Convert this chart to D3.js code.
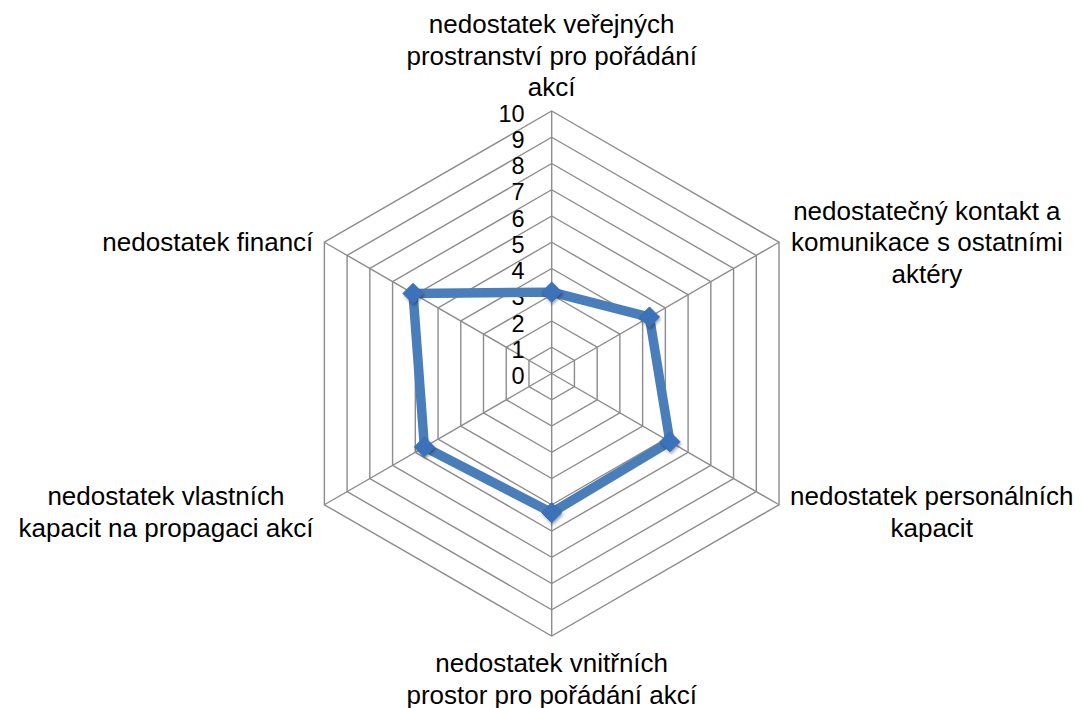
<!DOCTYPE html>
<html>
<head>
<meta charset="utf-8">
<script src="https://cdn.jsdelivr.net/npm/d3@7"></script>
<style>
	body { margin: 0; background: #fff; }
	svg { display: block; font-family: 'Liberation Sans', Arial, sans-serif; }
	.grid { fill: none; stroke: #8c8c8c; stroke-width: 1.4px; }
	.axisLine { stroke: #8c8c8c; stroke-width: 1.4px; }
	.tickText { font-size: 23.5px; fill: #000; }
	.catText { font-size: 26px; fill: #000; }
</style>
</head>
<body>
<div id="chart"></div>
<script>
// categories, clockwise from the top (each entry = lines of the label)
var categories = [
	['nedostatek veřejných', 'prostranství pro pořádání', 'akcí'],
	['nedostatečný kontakt a', 'komunikace s ostatními', 'aktéry'],
	['nedostatek personálních', 'kapacit'],
	['nedostatek vnitřních', 'prostor pro pořádání akcí'],
	['nedostatek vlastních', 'kapacit na propagaci akcí'],
	['nedostatek financí']
];
var values = [3.1, 4.3, 5.2, 5.3, 5.6, 6.1];
var ticks = [0, 1, 2, 3, 4, 5, 6, 7, 8, 9, 10];

var width = 1084, height = 708;
var cx = 551.7, cy = 373.5, radius = 262.5;
var lineHeight = 31.5;

var svg = d3.select('#chart')
	.append('svg')
	.attr('width', width)
	.attr('height', height);

var defs = svg.append('defs');
defs.append('filter')
	.attr('id', 'shadow')
	.attr('x', '-50%').attr('y', '-50%')
	.attr('width', '200%').attr('height', '200%')
	.append('feDropShadow')
	.attr('dx', 1).attr('dy', 2)
	.attr('stdDeviation', 1.6)
	.attr('flood-color', '#000')
	.attr('flood-opacity', 0.35);

var r = d3.scaleLinear().domain([0, 10]).range([0, radius]);
var angle = d3.scalePoint()
	.domain(d3.range(categories.length))
	.range([0, 2 * Math.PI * (categories.length - 1) / categories.length]);

function px(i, v) { return cx + r(v) * Math.sin(angle(i)); }
function py(i, v) { return cy - r(v) * Math.cos(angle(i)); }

var g = svg.append('g');

// rings
g.selectAll('.grid')
	.data(ticks.slice(1))
	.enter().append('polygon')
	.attr('class', 'grid')
	.attr('points', function(t) {
		return categories.map(function(c, i) { return px(i, t) + ',' + py(i, t); }).join(' ');
	});

// spokes
g.selectAll('.axisLine')
	.data(categories)
	.enter().append('line')
	.attr('class', 'axisLine')
	.attr('x1', cx).attr('y1', cy)
	.attr('x2', function(d, i) { return px(i, 10); })
	.attr('y2', function(d, i) { return py(i, 10); });

// tick labels along the top spoke
g.selectAll('.tickText')
	.data(ticks)
	.enter().append('text')
	.attr('class', 'tickText')
	.attr('text-anchor', 'end')
	.attr('x', cx - 27)
	.attr('y', function(t) { return py(0, t) + 10.5; })
	.text(function(t) { return t; });

// series
var line = d3.lineRadial()
	.angle(function(d, i) { return angle(i); })
	.radius(function(d) { return r(d); })
	.curve(d3.curveLinearClosed);

g.append('path')
	.datum(values)
	.attr('transform', 'translate(' + cx + ',' + cy + ')')
	.attr('fill', 'none')
	.attr('stroke', '#4a7ebb')
	.attr('stroke-width', 9.5)
	.attr('stroke-linejoin', 'round')
	.attr('d', line);

var diamond = d3.symbol().type(d3.symbolDiamond2).size(260);
g.selectAll('.marker')
	.data(values)
	.enter().append('path')
	.attr('class', 'marker')
	.attr('transform', function(d, i) { return 'translate(' + px(i, d) + ',' + py(i, d) + ')'; })
	.attr('fill', '#3b72b9')
	.attr('stroke', '#3a6eb2')
	.attr('stroke-width', 1)
	.attr('filter', 'url(#shadow)')
	.attr('d', diamond);

// category labels: [horizontal side, gap from vertex, vertical shift of block centre]
var labelPlace = [
	{side: 0, gap: 15, dy: 0},
	{side: 1, gap: 12, dy: 0},
	{side: 1, gap: 11, dy: 7},
	{side: 0, gap: 27, dy: 0},
	{side: -1, gap: 11, dy: 7},
	{side: -1, gap: 11, dy: 0}
];

categories.forEach(function(lines, i) {
	var p = labelPlace[i];
	var vx = px(i, 10), vy = py(i, 10);
	var t = g.append('text')
		.attr('class', 'catText')
		.attr('text-anchor', 'middle');
	lines.forEach(function(s) {
		t.append('tspan').text(s);
	});
	var w = d3.max(t.selectAll('tspan').nodes(), function(n) { return n.getComputedTextLength(); });
	var x = vx + p.side * (p.gap + w / 2);
	var firstBase;
	if (i === 0) {
		firstBase = vy - p.gap - (lines.length - 1) * lineHeight;
	} else if (i === 3) {
		firstBase = vy + p.gap + 9;
	} else {
		firstBase = vy + p.dy + 9 - (lines.length - 1) * lineHeight / 2;
	}
	t.selectAll('tspan')
		.attr('x', x)
		.attr('y', function(d, k) { return firstBase + k * lineHeight; });
});
</script>
</body>
</html>
